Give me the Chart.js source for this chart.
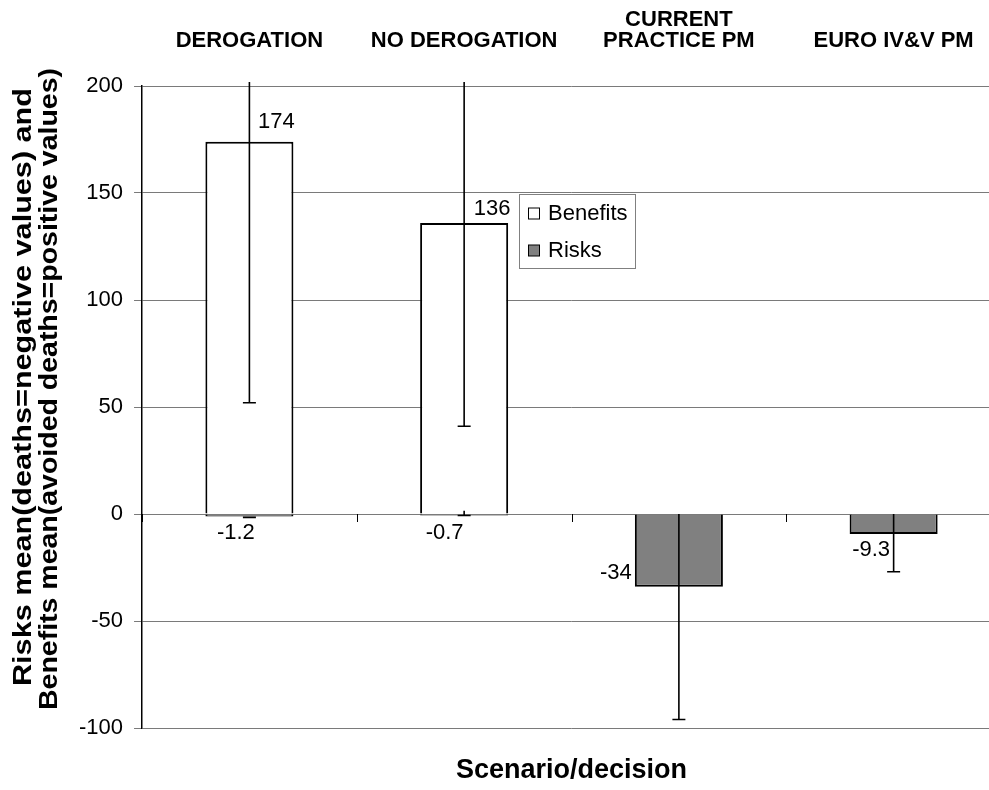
<!DOCTYPE html>
<html><head><meta charset="utf-8">
<script src="https://cdn.jsdelivr.net/npm/chart.js@4.4.1/dist/chart.umd.min.js"></script>
<style>
html,body{margin:0;padding:0;background:#fff;overflow:hidden;}
#wrap{width:989px;height:790px;overflow:hidden;position:relative;background:#fff;}
canvas{display:block;}
</style></head><body>
<div id="wrap"><canvas id="c" width="1010" height="790"></canvas></div>
<script>
// ---- data ----
const categories = ['DEROGATION', 'NO DEROGATION', ['CURRENT', 'PRACTICE PM'], 'EURO IV&V PM'];
const benefits = [174, 136, null, null];
const risks = [-1.2, -0.7, -34, -9.3];
const benefitsErrLow = [52, 41, null, null];
const benefitsErrHigh = [260, 245, null, null];
const risksErrLow = [-1.6, -0.7, -96, -27];
const risksErrHigh = [-1.2, 1.5, 0, 0];
const benefitsLabels = ['174', '136', '', ''];
const risksLabels = ['-1.2', '-0.7', '-34', '-9.3'];
const yTicks = [-100, -50, 0, 50, 100, 150, 200];
const yTitle = ['Risks mean(deaths=negative values) and', 'Benefits mean(avoided deaths=positive values)'];
const xTitle = 'Scenario/decision';

const FONT = "'Liberation Sans', Arial, sans-serif";
Chart.defaults.font.family = FONT;
Chart.defaults.color = '#000';

// error bars
const errorBarPlugin = {
  id: 'errorBars',
  afterDatasetsDraw(chart) {
    const ctx = chart.ctx, y = chart.scales.y, area = chart.chartArea;
    const sets = [[0, benefitsErrLow, benefitsErrHigh], [1, risksErrLow, risksErrHigh]];
    ctx.save();
    ctx.strokeStyle = '#000';
    ctx.lineWidth = 1.6;
    sets.forEach(([di, lo, hi]) => {
      const meta = chart.getDatasetMeta(di);
      meta.data.forEach((bar, i) => {
        if (lo[i] == null) return;
        const yl = y.getPixelForValue(lo[i]);
        const yh = Math.max(y.getPixelForValue(hi[i]), area.top - 4);
        ctx.beginPath();
        ctx.moveTo(bar.x, yl); ctx.lineTo(bar.x, yh);
        ctx.moveTo(bar.x - 6.5, yl); ctx.lineTo(bar.x + 6.5, yl);
        ctx.stroke();
      });
    });
    ctx.restore();
  }
};

// category axis tick marks at zero line
const zeroTicksPlugin = {
  id: 'zeroTicks',
  afterDatasetsDraw(chart) {
    const ctx = chart.ctx, x = chart.scales.x, y = chart.scales.y;
    const y0 = y.getPixelForValue(0);
    const n = categories.length, w = (x.right - x.left) / n;
    ctx.save();
    ctx.strokeStyle = '#000';
    ctx.lineWidth = 1;
    for (let i = 0; i <= n; i++) {
      const px = Math.round(x.left + i * w) + 0.5;
      ctx.beginPath(); ctx.moveTo(px, y0); ctx.lineTo(px, y0 + 8); ctx.stroke();
    }
    ctx.restore();
  }
};

// value labels
const valueLabelPlugin = {
  id: 'valueLabels',
  afterDatasetsDraw(chart) {
    const ctx = chart.ctx;
    const offs = [
      [[27, -20], [28, -14], null, null],
      [[-13.5, 16], [-19.5, 17], [-63, -13.5], [-22.5, 15.6]]
    ];
    const texts = [benefitsLabels, risksLabels];
    ctx.save();
    ctx.font = '22px ' + FONT;
    ctx.fillStyle = '#000';
    ctx.textAlign = 'center';
    ctx.textBaseline = 'middle';
    [0, 1].forEach(di => {
      chart.getDatasetMeta(di).data.forEach((bar, i) => {
        const t = texts[di][i];
        if (!t || !offs[di][i]) return;
        ctx.fillText(t, bar.x + offs[di][i][0], bar.y + offs[di][i][1]);
      });
    });
    ctx.restore();
  }
};

// y axis title (two rotated lines, each fitted to its length in the reference)
const yTitlePlugin = {
  id: 'yTitle',
  afterDraw(chart) {
    const ctx = chart.ctx;
    const lines = [{ x: 24, y: 387, len: 598 }, { x: 50, y: 389, len: 642 }];
    ctx.save();
    ctx.font = 'bold 26px ' + FONT;
    ctx.fillStyle = '#000';
    ctx.textAlign = 'center';
    ctx.textBaseline = 'middle';
    yTitle.forEach((t, i) => {
      const w = ctx.measureText(t).width;
      ctx.save();
      ctx.translate(lines[i].x, lines[i].y);
      ctx.rotate(-Math.PI / 2);
      ctx.scale(lines[i].len / w, 1);
      ctx.fillText(t, 0, 0);
      ctx.restore();
    });
    ctx.restore();
  }
};

// legend box
const legendPlugin = {
  id: 'boxLegend',
  afterDraw(chart) {
    const ctx = chart.ctx;
    const bx = 519.5, by = 194.5, bw = 116, bh = 74;
    ctx.save();
    ctx.fillStyle = '#fff';
    ctx.fillRect(bx, by, bw, bh);
    ctx.strokeStyle = '#808080';
    ctx.lineWidth = 1;
    ctx.strokeRect(bx, by, bw, bh);
    ctx.font = '22px ' + FONT;
    ctx.textBaseline = 'middle';
    ctx.textAlign = 'left';
    chart.data.datasets.forEach((ds, i) => {
      const cy = 213.5 + i * 37;
      ctx.fillStyle = ds.backgroundColor;
      ctx.fillRect(528.5, cy - 5.5, 11, 11);
      ctx.strokeStyle = '#000';
      ctx.strokeRect(528.5, cy - 5.5, 11, 11);
      ctx.fillStyle = '#000';
      ctx.fillText(ds.label, 548, cy);
    });
    ctx.restore();
  }
};

new Chart(document.getElementById('c'), {
  type: 'bar',
  data: {
    labels: categories,
    datasets: [
      { label: 'Benefits', data: benefits, backgroundColor: '#ffffff', borderColor: '#000', borderWidth: 2,
        barPercentage: 0.41, categoryPercentage: 1.0 },
      { label: 'Risks', data: risks, backgroundColor: '#808080', borderColor: '#000', borderWidth: 2,
        barPercentage: 0.41, categoryPercentage: 1.0 }
    ]
  },
  options: {
    responsive: false,
    animation: false,
    devicePixelRatio: 1,
    layout: { padding: { top: 9, right: 9, left: 68, bottom: 0 } },
    plugins: {
      legend: { display: false },
      tooltip: { enabled: false },
      title: {
        display: true, text: xTitle, position: 'bottom', fullSize: false, color: '#000',
        font: { size: 27, weight: 'bold', lineHeight: 1 }, padding: { top: 29, bottom: 6 }
      }
    },
    scales: {
      x: {
        position: 'top', stacked: true,
        grid: { display: true, drawOnChartArea: false, drawTicks: true, tickLength: 34, tickColor: 'rgba(0,0,0,0)' },
        border: { display: false },
        ticks: { font: { size: 22, weight: 'bold', lineHeight: '21.5px' }, padding: 0, maxRotation: 0, autoSkip: false, color: '#000' }
      },
      y: {
        stacked: true, min: -100, max: 200,
        afterBuildTicks: s => { s.ticks = yTicks.map(v => ({ value: v })); },
        grid: { color: '#7a7a7a', lineWidth: 1, tickLength: 8, drawTicks: true, tickColor: '#7a7a7a' },
        border: { display: true, color: '#000', width: 1.5 },
        ticks: { font: { size: 22 }, padding: 11, color: '#000' }
      }
    }
  },
  plugins: [zeroTicksPlugin, errorBarPlugin, valueLabelPlugin, yTitlePlugin, legendPlugin]
});
</script>
</body></html>
